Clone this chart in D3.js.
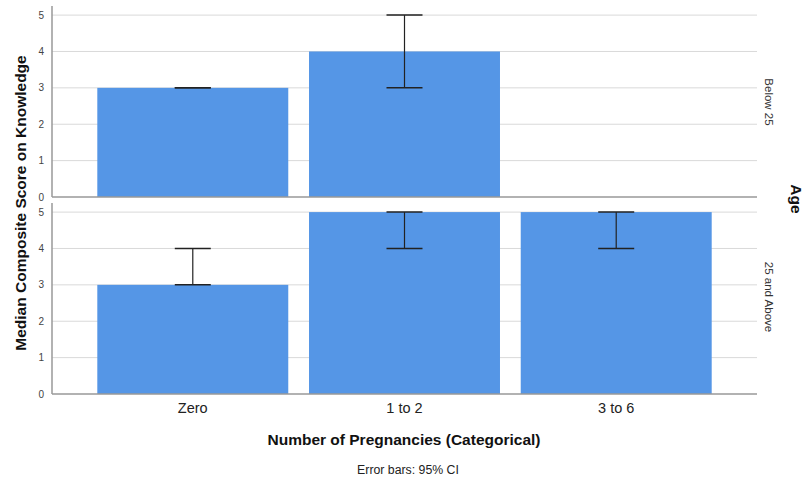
<!DOCTYPE html>
<html>
<head>
<meta charset="utf-8">
<script src="https://cdn.jsdelivr.net/npm/d3@7"></script>
<style>
  body { margin: 0; background: #fff; }
  text { font-family: "Liberation Sans", Arial, sans-serif; }
</style>
</head>
<body>
<div id="chart"></div>
<script>
// DATA
let categories = ["Zero", "1 to 2", "3 to 6"]
let panels = ["Below 25", "25 and Above"]
// median per panel, null = no bar
let medians = [
    [3, 4, null],
    [3, 5, 5]
]
let ciLow = [
    [3, 3, null],
    [3, 4, 4]
]
let ciHigh = [
    [3, 5, null],
    [4, 5, 5]
]
let yTicks = [0, 1, 2, 3, 4, 5]

// CHART AREA
let width = 805, height = 478
let left = 52, right = 757
let panelTops = [6, 203], panelHeight = 191

let svg = d3.select("#chart").append("svg")
    .attr("width", width)
    .attr("height", height)

let x = d3.scaleBand()
    .domain(categories)
    .range([left, right])
    .paddingInner(0.098)
    .paddingOuter(0.214)

panels.forEach((p, pi) => {
    let top = panelTops[pi]
    let y = d3.scaleLinear().domain([0, 5.25]).range([top + panelHeight, top])
    let g = svg.append("g")

    // gridlines
    g.selectAll(".grid").data(yTicks.filter(t => t > 0)).enter()
        .append("line")
        .attr("x1", left).attr("x2", right)
        .attr("y1", d => y(d)).attr("y2", d => y(d))
        .attr("stroke", "#d9d9d9")
        .attr("stroke-width", 1)

    // bars
    let rows = categories.map((c, i) => ({c: c, m: medians[pi][i], lo: ciLow[pi][i], hi: ciHigh[pi][i]}))
        .filter(d => d.m != null)

    g.selectAll(".bar").data(rows).enter()
        .append("rect")
        .attr("x", d => x(d.c))
        .attr("width", x.bandwidth())
        .attr("y", d => y(d.m))
        .attr("height", d => y(0) - y(d.m))
        .attr("fill", "#5596e6")

    // error bars
    let cap = 18
    rows.forEach(d => {
        let cx = x(d.c) + x.bandwidth() / 2
        g.append("line")
            .attr("x1", cx).attr("x2", cx)
            .attr("y1", y(d.lo)).attr("y2", y(d.hi))
            .attr("stroke", "#222").attr("stroke-width", 1.2)
        ;[d.lo, d.hi].forEach(v => {
            g.append("line")
                .attr("x1", cx - cap).attr("x2", cx + cap)
                .attr("y1", y(v)).attr("y2", y(v))
                .attr("stroke", "#222").attr("stroke-width", 1.5)
        })
    })

    // axes
    g.append("line")
        .attr("x1", left).attr("x2", right)
        .attr("y1", y(0)).attr("y2", y(0))
        .attr("stroke", "#999").attr("stroke-width", 1.5)
    g.append("line")
        .attr("x1", left).attr("x2", left)
        .attr("y1", top).attr("y2", y(0))
        .attr("stroke", "#999").attr("stroke-width", 1.5)

    g.selectAll(".tick").data(yTicks).enter()
        .append("text")
        .attr("x", 44)
        .attr("y", d => y(d))
        .attr("dy", "0.35em")
        .attr("text-anchor", "end")
        .attr("font-size", 10)
        .attr("fill", "#444")
        .text(d => d)

    // panel label
    let my = pi == 0 ? 102 : 297
    g.append("text")
        .attr("transform", "translate(765," + my + ") rotate(90)")
        .attr("text-anchor", "middle")
        .attr("font-size", 11.5)
        .attr("fill", "#333")
        .text(p)
})

// category labels
svg.selectAll(".cat").data(categories).enter()
    .append("text")
    .attr("x", d => x(d) + x.bandwidth() / 2)
    .attr("y", 413)
    .attr("text-anchor", "middle")
    .attr("font-size", 14.5)
    .attr("fill", "#222")
    .text(d => d)

svg.append("text")
    .attr("x", 404).attr("y", 445)
    .attr("text-anchor", "middle")
    .attr("font-size", 15.5).attr("font-weight", "bold")
    .attr("fill", "#111")
    .text("Number of Pregnancies (Categorical)")

svg.append("text")
    .attr("x", 408).attr("y", 474)
    .attr("text-anchor", "middle")
    .attr("font-size", 12.3)
    .attr("fill", "#222")
    .text("Error bars: 95% CI")

svg.append("text")
    .attr("transform", "translate(26,203) rotate(-90)")
    .attr("text-anchor", "middle")
    .attr("font-size", 15.5).attr("font-weight", "bold")
    .attr("fill", "#111")
    .text("Median Composite Score on Knowledge")

svg.append("text")
    .attr("transform", "translate(791,199) rotate(90)")
    .attr("text-anchor", "middle")
    .attr("font-size", 15.5).attr("font-weight", "bold")
    .attr("fill", "#111")
    .text("Age")
</script>
</body>
</html>
